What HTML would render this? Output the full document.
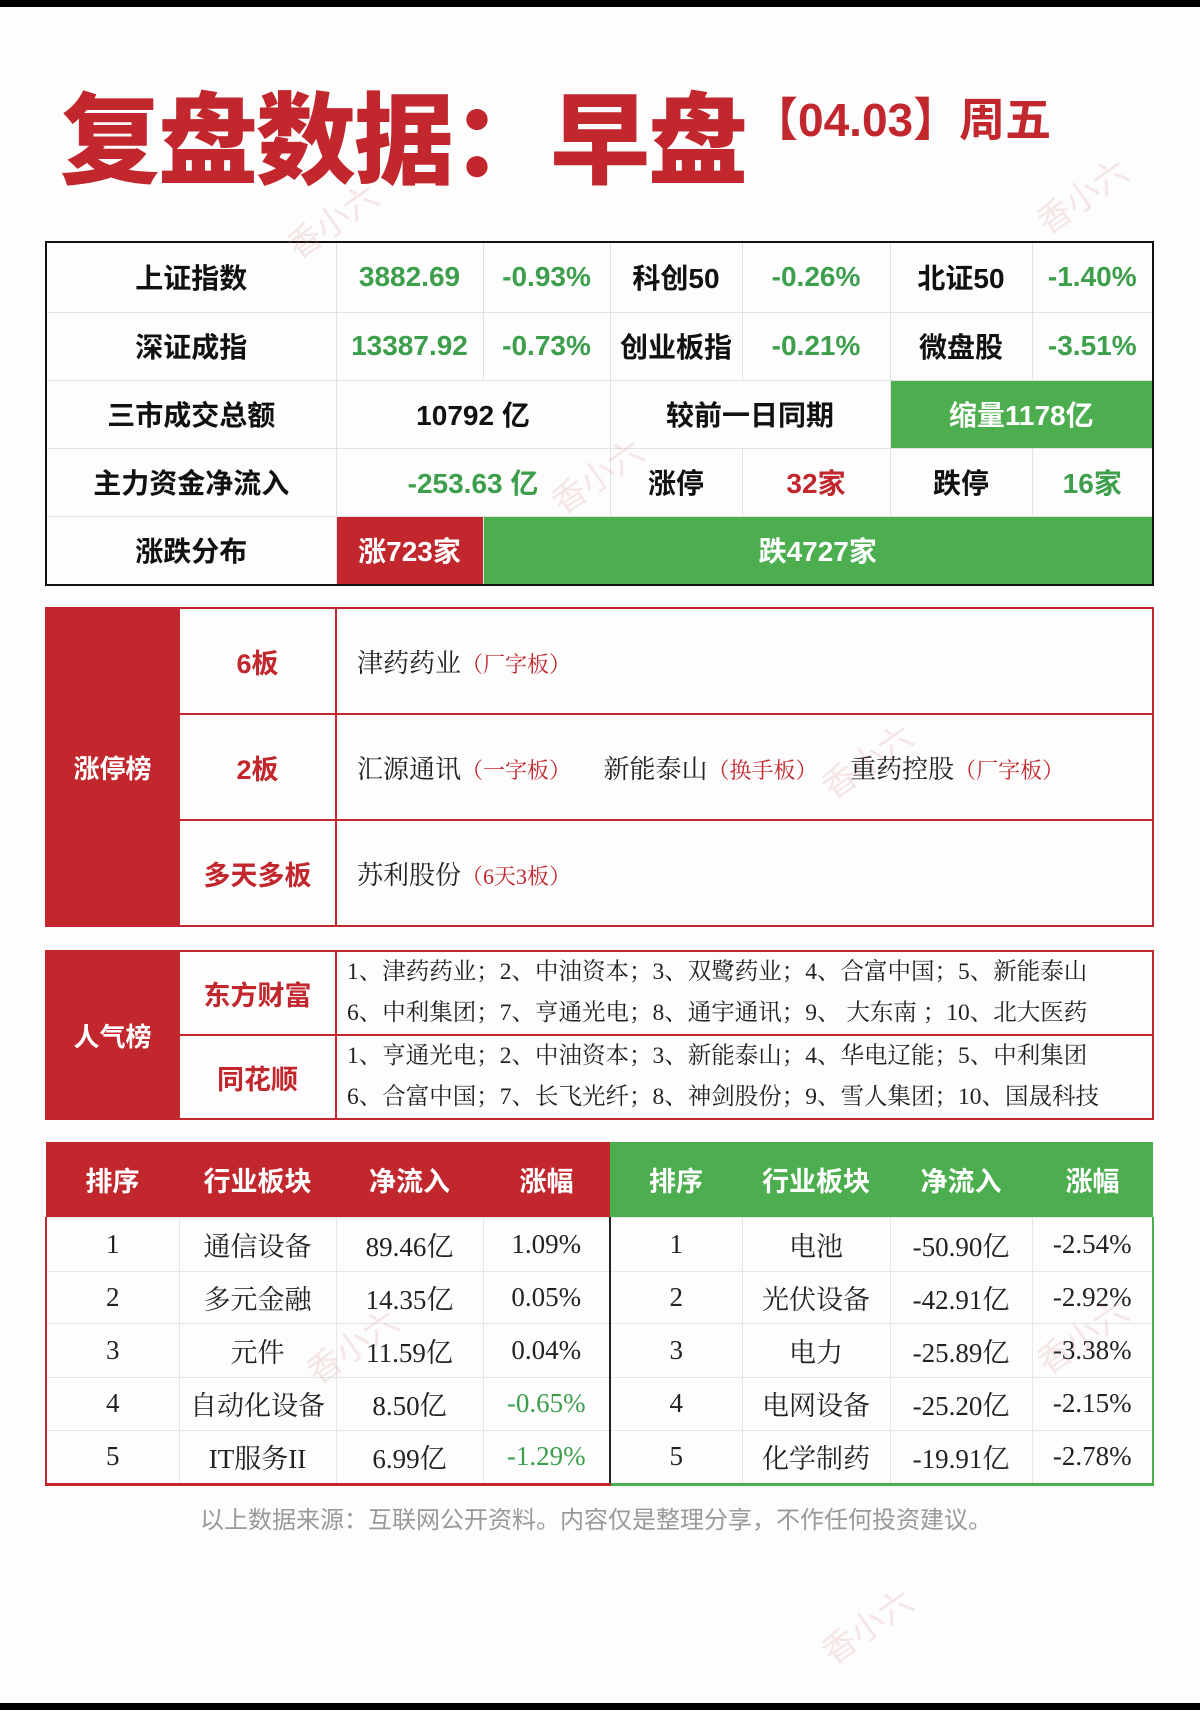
<!DOCTYPE html>
<html><head><meta charset="utf-8"><style>
*{margin:0;padding:0;box-sizing:border-box}
body{width:1200px;height:1710px;background:#fdfdfd;position:relative;overflow:hidden;font-family:"Liberation Sans","Noto Sans CJK SC",sans-serif}
.bar{position:absolute;left:0;width:1200px;height:7px;background:#000}
.abs{position:absolute}
table{position:absolute;border-collapse:collapse;table-layout:fixed}
td{text-align:center;vertical-align:middle;padding:0}
#t1{left:45px;top:241px;width:1107px;border:2px solid #111}
#t1 td{border:1px solid #e2e2e2;font-size:28px;font-weight:bold;color:#111}
.g{color:#3d9e4c!important}.r{color:#c1272d!important}
.gb{background:#4cae4f;color:#fff!important}.rb{background:#c1272d;color:#fff!important}
#t2,#t3{left:45px;width:1107px;border:2px solid #c1272d}
#t2{top:607px}#t3{top:950px}
#t2 td,#t3 td{border:2px solid #c1272d}
.lab{background:#c1272d;color:#fff;font-size:26px;font-weight:bold}
.sub{color:#c1272d;font-size:27px;font-weight:bold}
.txt{text-align:left!important;padding-left:20px!important;font-family:"Liberation Serif","Noto Serif CJK SC",serif;font-size:26px;color:#222;white-space:nowrap}
.txt i{font-style:normal;color:#c1272d;font-size:22px}
.lst{text-align:left!important;padding-left:10px!important;font-family:"Liberation Serif","Noto Serif CJK SC",serif;font-size:23.5px;color:#222;line-height:41px;white-space:nowrap}
#t4{left:45px;top:1142px;width:1107px}
#t4 td{border:1px solid #e6e6e6;font-family:"Liberation Serif","Noto Serif CJK SC",serif;font-size:27px;color:#222}
#t4 th{font-size:27px;color:#fff;font-weight:bold;height:75px}
.wm{position:absolute;color:rgba(210,120,120,0.18);font-size:34px;transform:rotate(-35deg);font-family:"Noto Sans CJK SC",sans-serif}
</style></head><body>
<div class="bar" style="top:0"></div>
<div class="bar" style="top:1703px"></div>
<div class="abs" style="left:60px;top:60px;font-size:100px;font-weight:900;color:#c1272d;letter-spacing:-2px;white-space:nowrap">复盘数据：早盘</div>
<div class="abs" style="left:752px;top:84px;font-size:46px;font-weight:bold;color:#c1272d;white-space:nowrap">【04.03】周五</div>

<table id="t1">
<colgroup><col style="width:290px"><col style="width:147px"><col style="width:127px"><col style="width:132px"><col style="width:148px"><col style="width:142px"><col style="width:121px"></colgroup>
<tr style="height:70px"><td>上证指数</td><td class="g">3882.69</td><td class="g">-0.93%</td><td>科创50</td><td class="g">-0.26%</td><td>北证50</td><td class="g">-1.40%</td></tr>
<tr style="height:68px"><td>深证成指</td><td class="g">13387.92</td><td class="g">-0.73%</td><td>创业板指</td><td class="g">-0.21%</td><td>微盘股</td><td class="g">-3.51%</td></tr>
<tr style="height:68px"><td>三市成交总额</td><td colspan="2">10792 亿</td><td colspan="2">较前一日同期</td><td colspan="2" class="gb">缩量1178亿</td></tr>
<tr style="height:68px"><td>主力资金净流入</td><td colspan="2" class="g">-253.63 亿</td><td>涨停</td><td class="r">32家</td><td>跌停</td><td class="g">16家</td></tr>
<tr style="height:69px"><td>涨跌分布</td><td class="rb">涨723家</td><td colspan="5" class="gb">跌4727家</td></tr>
</table>

<table id="t2">
<colgroup><col style="width:133px"><col style="width:157px"><col style="width:817px"></colgroup>
<tr style="height:106px"><td rowspan="3" class="lab">涨停榜</td><td class="sub">6板</td><td class="txt">津药药业<i>（厂字板）</i></td></tr>
<tr style="height:106px"><td class="sub">2板</td><td class="txt">汇源通讯<i>（一字板）</i>&nbsp;&nbsp;&nbsp;&nbsp;&nbsp;新能泰山<i>（换手板）</i>&nbsp;&nbsp;&nbsp;&nbsp;&nbsp;重药控股<i>（厂字板）</i></td></tr>
<tr style="height:106px"><td class="sub">多天多板</td><td class="txt">苏利股份<i>（6天3板）</i></td></tr>
</table>

<table id="t3">
<colgroup><col style="width:133px"><col style="width:157px"><col style="width:817px"></colgroup>
<tr style="height:84px"><td rowspan="2" class="lab">人气榜</td><td class="sub">东方财富</td><td class="lst">1、津药药业；2、中油资本；3、双鹭药业；4、合富中国；5、新能泰山<br>6、中利集团；7、亨通光电；8、通宇通讯；9、 大东南 ；10、北大医药</td></tr>
<tr style="height:84px"><td class="sub">同花顺</td><td class="lst">1、亨通光电；2、中油资本；3、新能泰山；4、华电辽能；5、中利集团<br>6、合富中国；7、长飞光纤；8、神剑股份；9、雪人集团；10、国晟科技</td></tr>
</table>

<table id="t4">
<colgroup><col style="width:133px"><col style="width:157px"><col style="width:147px"><col style="width:127px"><col style="width:132px"><col style="width:148px"><col style="width:142px"><col style="width:121px"></colgroup>
<tr><th style="background:#c1272d">排序</th><th style="background:#c1272d">行业板块</th><th style="background:#c1272d">净流入</th><th style="background:#c1272d">涨幅</th><th style="background:#4cae4f">排序</th><th style="background:#4cae4f">行业板块</th><th style="background:#4cae4f">净流入</th><th style="background:#4cae4f">涨幅</th></tr>
<tr style="height:54px"><td style="border-left:2px solid #c1272d">1</td><td>通信设备</td><td>89.46亿</td><td>1.09%</td><td style="border-left:2px solid #222">1</td><td>电池</td><td>-50.90亿</td><td style="border-right:2px solid #4cae4f">-2.54%</td></tr>
<tr style="height:52px"><td style="border-left:2px solid #c1272d">2</td><td>多元金融</td><td>14.35亿</td><td>0.05%</td><td style="border-left:2px solid #222">2</td><td>光伏设备</td><td>-42.91亿</td><td style="border-right:2px solid #4cae4f">-2.92%</td></tr>
<tr style="height:54px"><td style="border-left:2px solid #c1272d">3</td><td>元件</td><td>11.59亿</td><td>0.04%</td><td style="border-left:2px solid #222">3</td><td>电力</td><td>-25.89亿</td><td style="border-right:2px solid #4cae4f">-3.38%</td></tr>
<tr style="height:53px"><td style="border-left:2px solid #c1272d">4</td><td>自动化设备</td><td>8.50亿</td><td class="g">-0.65%</td><td style="border-left:2px solid #222">4</td><td>电网设备</td><td>-25.20亿</td><td style="border-right:2px solid #4cae4f">-2.15%</td></tr>
<tr style="height:54px"><td style="border-left:2px solid #c1272d;border-bottom:3px solid #c1272d">5</td><td style="border-bottom:3px solid #c1272d">IT服务II</td><td style="border-bottom:3px solid #c1272d">6.99亿</td><td class="g" style="border-bottom:3px solid #c1272d">-1.29%</td><td style="border-left:2px solid #222;border-bottom:3px solid #4cae4f">5</td><td style="border-bottom:3px solid #4cae4f">化学制药</td><td style="border-bottom:3px solid #4cae4f">-19.91亿</td><td style="border-right:2px solid #4cae4f;border-bottom:3px solid #4cae4f">-2.78%</td></tr>
</table>

<div class="abs" style="left:200px;top:1500px;font-size:24px;color:#999;white-space:nowrap">以上数据来源：互联网公开资料。内容仅是整理分享，不作任何投资建议。</div>

<div class="wm" style="left:280px;top:195px">香小六</div>
<div class="wm" style="left:1030px;top:170px">香小六</div>
<div class="wm" style="left:545px;top:450px">香小六</div>
<div class="wm" style="left:815px;top:735px">香小六</div>
<div class="wm" style="left:300px;top:1320px">香小六</div>
<div class="wm" style="left:1030px;top:1310px">香小六</div>
<div class="wm" style="left:815px;top:1600px">香小六</div>
</body></html>
